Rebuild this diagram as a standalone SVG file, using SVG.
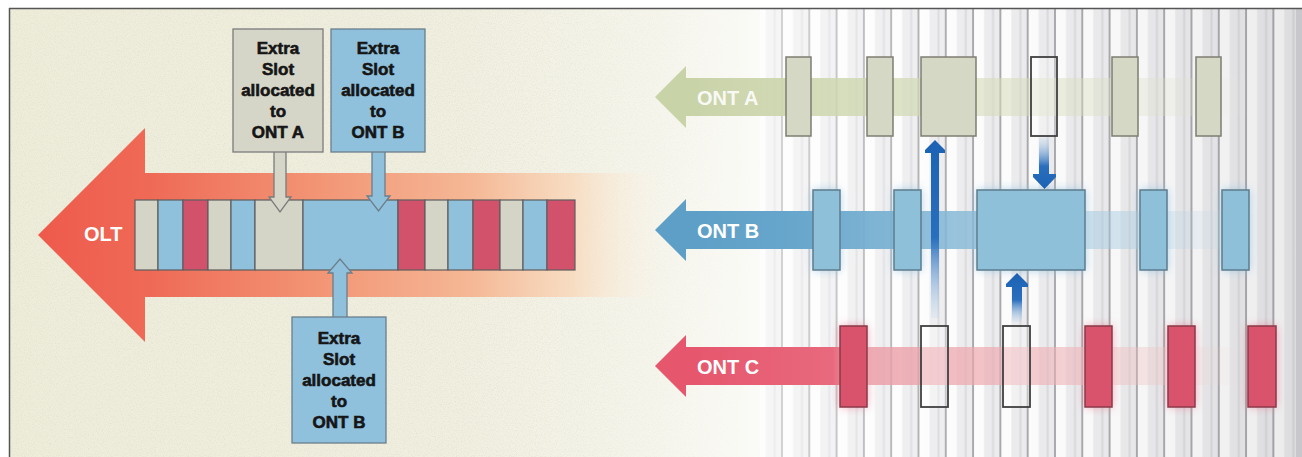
<svg xmlns="http://www.w3.org/2000/svg" width="1302" height="457" viewBox="0 0 1302 457">
  <defs>
    <style>
      .slot { stroke: #5e5e5e; stroke-width: 1.2; }
      .g { fill: #d4d5c6; }
      .b { fill: #8fc0dc; }
      .r { fill: #d2526c; }
      .callout-a { fill: #d5d6c8; stroke: #7b7b7b; stroke-width: 1.3; }
      .callout-b { fill: #8fc0dc; stroke: #6b7f8a; stroke-width: 1.3; }
      .ctext { font-family: "Liberation Sans", Arial, sans-serif; font-weight: bold; font-size: 17px; fill: #151515; stroke: #151515; stroke-width: 0.6; text-anchor: middle; }
      .olabel { font-family: "Liberation Sans", Arial, sans-serif; font-weight: bold; font-size: 20px; fill: #ffffff; }
      .boxA { fill: #d6d8c6; stroke: #7d7d72; stroke-width: 1.5; }
      .boxB { fill: #8fc0da; stroke: #5d7c8c; stroke-width: 1.5; }
      .boxC { fill: #d9536d; stroke: #8a3a48; stroke-width: 1.5; }
      .empty { fill: #ffffff; fill-opacity: 0.3; stroke: #404040; stroke-width: 1.8; }
    </style>

    <!-- paper grain for the cream half -->
    <filter id="grain" x="0" y="0" width="100%" height="100%">
      <feTurbulence type="fractalNoise" baseFrequency="0.85" numOctaves="2" seed="7" result="n"/>
      <feColorMatrix in="n" type="matrix" values="0 0 0 0 0.6  0 0 0 0 0.59  0 0 0 0 0.5  1.6 0 0 0 -0.72"/>
    </filter>
    <filter id="soft" x="-50%" y="-30%" width="200%" height="160%">
      <feGaussianBlur stdDeviation="5"/>
    </filter>
    <linearGradient id="grainFade" x1="9" y1="0" x2="760" y2="0" gradientUnits="userSpaceOnUse">
      <stop offset="0" stop-color="#ffffff"/>
      <stop offset="0.7" stop-color="#ffffff"/>
      <stop offset="1" stop-color="#000000"/>
    </linearGradient>
    <mask id="grainMask" maskUnits="userSpaceOnUse" x="0" y="0" width="1302" height="457">
      <rect x="9" y="8" width="760" height="449" fill="url(#grainFade)"/>
    </mask>

    <linearGradient id="bgCream" x1="9" y1="0" x2="770" y2="0" gradientUnits="userSpaceOnUse">
      <stop offset="0" stop-color="#eeedda"/>
      <stop offset="0.6" stop-color="#f0efe0"/>
      <stop offset="0.85" stop-color="#f6f5ec"/>
      <stop offset="1" stop-color="#fbfbf8"/>
    </linearGradient>
    <linearGradient id="stripeShade" x1="760" y1="0" x2="1300" y2="0" gradientUnits="userSpaceOnUse">
      <stop offset="0" stop-color="#ffffff" stop-opacity="0.55"/>
      <stop offset="0.4" stop-color="#ffffff" stop-opacity="0.05"/>
      <stop offset="1" stop-color="#8a8a92" stop-opacity="0.15"/>
    </linearGradient>
    <pattern id="stripes" x="781" y="0" width="27.3" height="457" patternUnits="userSpaceOnUse">
      <rect x="0" y="0" width="27.3" height="457" fill="#ebebed"/>
      <rect x="0" y="0" width="2" height="457" fill="#a4a4a8"/>
      <rect x="2" y="0" width="10" height="457" fill="#fcfcfc"/>
      <rect x="20" y="0" width="2" height="457" fill="#d8d8db"/>
    </pattern>

    <linearGradient id="oltFill" x1="38" y1="0" x2="660" y2="0" gradientUnits="userSpaceOnUse">
      <stop offset="0" stop-color="#ee5a4c"/>
      <stop offset="0.18" stop-color="#ef6a56"/>
      <stop offset="0.45" stop-color="#f29575"/>
      <stop offset="0.7" stop-color="#f5b896"/>
      <stop offset="0.86" stop-color="#f8d9bc" stop-opacity="0.85"/>
      <stop offset="1" stop-color="#fbf0de" stop-opacity="0"/>
    </linearGradient>

    <linearGradient id="shaftA" x1="686" y1="0" x2="1255" y2="0" gradientUnits="userSpaceOnUse">
      <stop offset="0" stop-color="#c9d3a8"/>
      <stop offset="0.2" stop-color="#cdd6ae" stop-opacity="0.9"/>
      <stop offset="0.5" stop-color="#d3dab6" stop-opacity="0.6"/>
      <stop offset="0.8" stop-color="#dbe0c4" stop-opacity="0.35"/>
      <stop offset="1" stop-color="#e2e6d2" stop-opacity="0"/>
    </linearGradient>
    <linearGradient id="shaftB" x1="686" y1="0" x2="1260" y2="0" gradientUnits="userSpaceOnUse">
      <stop offset="0" stop-color="#5d9fc7"/>
      <stop offset="0.22" stop-color="#6aa8cd"/>
      <stop offset="0.45" stop-color="#82b6d5" stop-opacity="0.85"/>
      <stop offset="0.75" stop-color="#a3c9e0" stop-opacity="0.45"/>
      <stop offset="1" stop-color="#b9d6e8" stop-opacity="0"/>
    </linearGradient>
    <linearGradient id="shaftC" x1="686" y1="0" x2="1250" y2="0" gradientUnits="userSpaceOnUse">
      <stop offset="0" stop-color="#e6566d"/>
      <stop offset="0.26" stop-color="#e8697d"/>
      <stop offset="0.3" stop-color="#eb9aa4" stop-opacity="0.85"/>
      <stop offset="0.7" stop-color="#eeb2b6" stop-opacity="0.55"/>
      <stop offset="1" stop-color="#f2cdc6" stop-opacity="0"/>
    </linearGradient>

    <linearGradient id="upFade" x1="0" y1="0" x2="0" y2="1">
      <stop offset="0" stop-color="#1c62b4"/>
      <stop offset="0.55" stop-color="#2a6fbd"/>
      <stop offset="1" stop-color="#b6d2ec" stop-opacity="0.2"/>
    </linearGradient>
    <linearGradient id="downFade" x1="0" y1="1" x2="0" y2="0">
      <stop offset="0" stop-color="#1c62b4"/>
      <stop offset="0.45" stop-color="#2a6fbd"/>
      <stop offset="1" stop-color="#b6d2ec" stop-opacity="0.2"/>
    </linearGradient>
  </defs>

  <!-- page and frame -->
  <rect x="0" y="0" width="1302" height="457" fill="#ffffff"/>
  <g id="background">
    <rect x="9" y="8" width="760" height="449" fill="url(#bgCream)"/>
    <g mask="url(#grainMask)">
      <rect x="9" y="8" width="760" height="449" filter="url(#grain)" opacity="0.4"/>
    </g>
    <rect x="760" y="8" width="538" height="449" fill="url(#stripes)"/>
    <rect x="760" y="8" width="538" height="449" fill="url(#stripeShade)"/>
    <rect x="1296" y="8" width="6" height="449" fill="#c8c8cc"/>
    <line x1="9" y1="8.5" x2="1302" y2="8.5" stroke="#555555" stroke-width="1.5"/>
    <line x1="9.5" y1="8" x2="9.5" y2="457" stroke="#555555" stroke-width="1.5"/>
  </g>

  <!-- OLT upstream frame -->
  <g id="olt">
    <polygon points="38,235 145,128 145,173 660,173 660,297 145,297 145,342" fill="url(#oltFill)"/>
    <text x="84" y="241" class="olabel" font-size="16">OLT</text>
    <g id="olt-slots">
      <rect class="slot g" x="135" y="200" width="23" height="70"/>
      <rect class="slot b" x="158" y="200" width="25" height="70"/>
      <rect class="slot r" x="183" y="200" width="25" height="70"/>
      <rect class="slot g" x="208" y="200" width="23" height="70"/>
      <rect class="slot b" x="231" y="200" width="24" height="70"/>
      <rect class="slot g" x="255" y="200" width="48" height="70"/>
      <rect class="slot b" x="303" y="200" width="95" height="70"/>
      <rect class="slot r" x="398" y="200" width="27" height="70"/>
      <rect class="slot g" x="425" y="200" width="23" height="70"/>
      <rect class="slot b" x="448" y="200" width="25" height="70"/>
      <rect class="slot r" x="473" y="200" width="27" height="70"/>
      <rect class="slot g" x="500" y="200" width="23" height="70"/>
      <rect class="slot b" x="523" y="200" width="24" height="70"/>
      <rect class="slot r" x="547" y="200" width="28" height="70"/>
    </g>
  </g>

  <!-- ONT A row -->
  <g id="ont-a">
    <rect x="686" y="78" width="570" height="38" fill="url(#shaftA)"/>
    <polygon points="655,97 686,66 686,78 700,78 700,116 686,116 686,128" fill="#c9d3a8"/>
    <text x="697" y="105" class="olabel" fill-opacity="0.9">ONT A</text>
    <rect class="boxA" x="786" y="57" width="25" height="79"/>
    <rect class="boxA" x="867" y="57" width="26" height="79"/>
    <rect class="boxA" x="921" y="57" width="55" height="79"/>
    <rect class="empty" x="1031" y="57" width="26" height="79"/>
    <rect class="boxA" x="1112" y="57" width="26" height="79"/>
    <rect class="boxA" x="1196" y="57" width="25" height="79"/>
  </g>

  <!-- ONT B row -->
  <g id="ont-b">
    <g filter="url(#soft)" fill="#8cc0e2" opacity="0.75">
      <rect x="813" y="190" width="27" height="80"/>
      <rect x="894" y="190" width="27" height="80"/>
      <rect x="977" y="190" width="108" height="80"/>
      <rect x="1140" y="190" width="27" height="80"/>
      <rect x="1222" y="190" width="27" height="80"/>
    </g>
    <rect x="686" y="211" width="575" height="38" fill="url(#shaftB)"/>
    <polygon points="655,230 686,199 686,211 700,211 700,249 686,249 686,261" fill="#5d9fc7"/>
    <text x="697" y="238" class="olabel">ONT B</text>
    <rect class="boxB" x="813" y="190" width="27" height="80"/>
    <rect class="boxB" x="894" y="190" width="27" height="80"/>
    <rect class="boxB" x="977" y="190" width="108" height="80"/>
    <rect class="boxB" x="1140" y="190" width="27" height="80"/>
    <rect class="boxB" x="1222" y="190" width="27" height="80"/>
  </g>

  <!-- ONT C row -->
  <g id="ont-c">
    <g filter="url(#soft)" fill="#ea6c84" opacity="0.6">
      <rect x="840" y="326" width="27" height="81"/>
      <rect x="1085" y="326" width="27" height="81"/>
      <rect x="1168" y="326" width="27" height="81"/>
      <rect x="1248" y="326" width="28" height="81"/>
    </g>
    <rect x="686" y="347" width="565" height="38" fill="url(#shaftC)"/>
    <polygon points="655,366 686,335 686,347 700,347 700,385 686,385 686,397" fill="#e6566d"/>
    <text x="697" y="374" class="olabel">ONT C</text>
    <rect class="boxC" x="840" y="326" width="27" height="81"/>
    <rect class="empty" x="921" y="326" width="27" height="81"/>
    <rect class="empty" x="1003" y="326" width="27" height="81"/>
    <rect class="boxC" x="1085" y="326" width="27" height="81"/>
    <rect class="boxC" x="1168" y="326" width="27" height="81"/>
    <rect class="boxC" x="1248" y="326" width="28" height="81"/>
  </g>

  <!-- pointers and slot reassignment arrows -->
  <g id="connectors">
    <polygon class="callout-a" points="274,150 286,150 286,197 291,197 280,212 269,197 274,197"/>
    <polygon class="callout-b" points="372,150 385,150 385,196 390,196 378.5,211 367,196 372,196"/>
    <polygon class="callout-b" points="333,319 347,319 347,273 352,273 340,259 328,273 333,273"/>

    <polygon points="931,318 939,318 939,153 945,153 945,150 935,140 925,150 925,153 931,153" fill="url(#upFade)"/>
    <polygon points="1039,138 1049,138 1049,174 1056,174 1056,177 1044.5,189 1033,177 1033,174 1039,174" fill="url(#downFade)"/>
    <polygon points="1012,322 1022,322 1022,287 1028,287 1028,284 1017,273 1006,284 1006,287 1012,287" fill="url(#upFade)"/>
  </g>

  <!-- callout labels -->
  <g id="callout-ont-a">
    <rect class="callout-a" x="233" y="29" width="90" height="123"/>
    <text class="ctext" x="278" y="54">Extra</text>
    <text class="ctext" x="278" y="75">Slot</text>
    <text class="ctext" x="278" y="96">allocated</text>
    <text class="ctext" x="278" y="117">to</text>
    <text class="ctext" x="278" y="138">ONT A</text>
  </g>
  <g id="callout-ont-b-top">
    <rect class="callout-b" x="331" y="29" width="94" height="123"/>
    <text class="ctext" x="378" y="54">Extra</text>
    <text class="ctext" x="378" y="75">Slot</text>
    <text class="ctext" x="378" y="96">allocated</text>
    <text class="ctext" x="378" y="117">to</text>
    <text class="ctext" x="378" y="138">ONT B</text>
  </g>
  <g id="callout-ont-b-bottom">
    <rect class="callout-b" x="292" y="317" width="94" height="126"/>
    <text class="ctext" x="339" y="344">Extra</text>
    <text class="ctext" x="339" y="365">Slot</text>
    <text class="ctext" x="339" y="386">allocated</text>
    <text class="ctext" x="339" y="407">to</text>
    <text class="ctext" x="339" y="428">ONT B</text>
  </g>
</svg>
